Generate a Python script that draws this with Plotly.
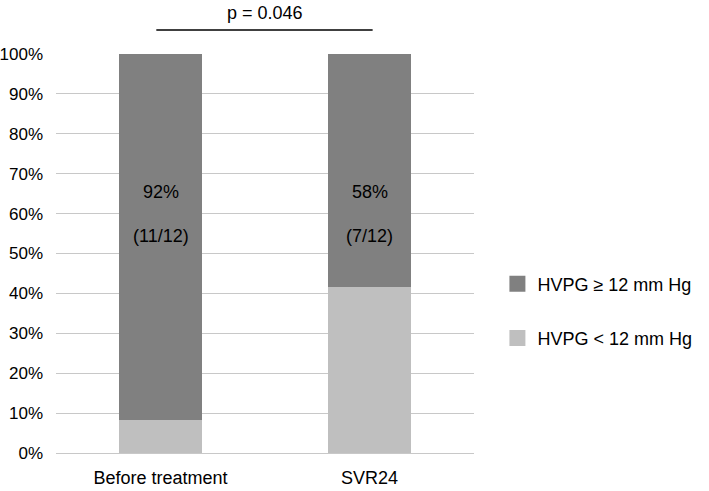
import plotly.graph_objects as go

categories = ["Before treatment", "SVR24"]
high_pct = [91.67, 58.33]   # HVPG >= 12 mm Hg
low_pct = [8.33, 41.67]     # HVPG < 12 mm Hg
pct_labels = ["92%", "58%"]
count_labels = ["(11/12)", "(7/12)"]
p_text = "p = 0.046"
y_ticks = list(range(0, 101, 10))
y_ticklabels = [f"{v}%" for v in y_ticks]

FONT = "Liberation Sans, Arial, sans-serif"
DARK = "#808080"
LIGHT = "#BFBFBF"

fig = go.Figure()
fig.add_trace(go.Bar(x=categories, y=low_pct, name="HVPG < 12 mm Hg",
                     marker=dict(color=LIGHT, line=dict(width=0)),
                     showlegend=False))
fig.add_trace(go.Bar(x=categories, y=high_pct, name="HVPG ≥ 12 mm Hg",
                     marker=dict(color=DARK, line=dict(width=0)),
                     showlegend=False))
# legend entries with larger square swatches
fig.add_trace(go.Scatter(x=[None], y=[None], mode="markers", name="HVPG ≥ 12 mm Hg",
                         marker=dict(symbol="square", size=20, color=DARK),
                         legendgroup="high"))
fig.add_trace(go.Scatter(x=[None], y=[None], mode="markers", name="HVPG < 12 mm Hg",
                         marker=dict(symbol="square", size=20, color=LIGHT),
                         legendgroup="low"))

for i, c in enumerate(categories):
    fig.add_annotation(x=c, y=65.5, text=pct_labels[i], showarrow=False,
                       yanchor="middle",
                       font=dict(size=18, color="#000000", family=FONT))
    fig.add_annotation(x=c, y=54.5, text=count_labels[i], showarrow=False,
                       yanchor="middle",
                       font=dict(size=18, color="#000000", family=FONT))

fig.add_annotation(x=0.5, xref="x", y=1.102, yref="paper", text=p_text,
                   showarrow=False, xanchor="center", yanchor="middle",
                   font=dict(size=18, color="#000000", family=FONT))
fig.add_shape(type="line", xref="x", yref="paper", x0=-0.02, x1=1.015,
              y0=1.06, y1=1.06, line=dict(color="#000000", width=1.5))

fig.update_layout(
    width=709, height=491,
    margin=dict(l=56, r=232, t=54, b=38),
    barmode="stack", bargap=0.6,
    plot_bgcolor="white", paper_bgcolor="white",
    font=dict(family=FONT, size=17, color="#000000"),
    showlegend=True,
    legend=dict(x=1.056, xanchor="left", y=0.356, yanchor="middle",
                tracegroupgap=28, itemwidth=30,
                font=dict(size=18, family=FONT, color="#000000")),
    xaxis=dict(showline=False, ticks="", tickfont=dict(size=18),
               ticklabelstandoff=12, automargin=False, range=[-0.5, 1.5]),
    yaxis=dict(range=[0, 100], tickvals=y_ticks, ticktext=y_ticklabels,
               showgrid=True, gridcolor="#C8C8C8", gridwidth=1,
               zeroline=True, zerolinecolor="#C8C8C8", zerolinewidth=1,
               showline=False, ticks="", tickfont=dict(size=17),
               ticklabelstandoff=12, automargin=False),
)

fig.write_html("out.html", config={"displayModeBar": False},
               post_script="document.body.style.margin='0';")
